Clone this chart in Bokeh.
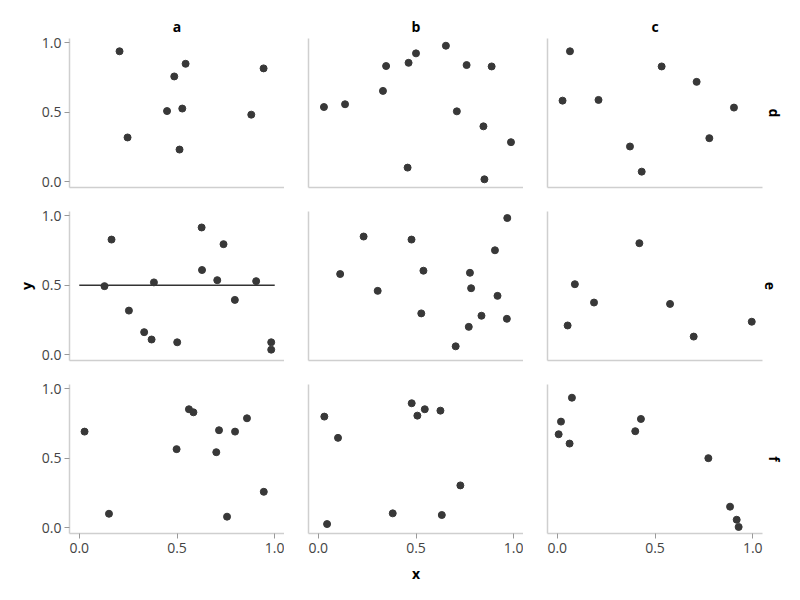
from bokeh.plotting import figure
from bokeh.layouts import gridplot
from bokeh.models import Range1d, FixedTicker, Title, ColumnDataSource
from bokeh.embed import file_html
from bokeh.resources import INLINE

# ---------------- data ----------------
col_labels = ["a", "b", "c"]
row_labels = ["d", "e", "f"]
tick_values = [0.0, 0.5, 1.0]
tick_labels = ["0.0", "0.5", "1.0"]
x_title = "x"
y_title = "y"

a_d_x = [0.206, 0.544, 0.486, 0.943, 0.449, 0.527, 0.880, 0.247, 0.513]
a_d_y = [0.938, 0.848, 0.757, 0.815, 0.508, 0.526, 0.482, 0.318, 0.231]

b_d_x = [0.029, 0.137, 0.331, 0.347, 0.462, 0.500, 0.653, 0.759, 0.887, 0.709, 0.845, 0.986, 0.457, 0.850]
b_d_y = [0.537, 0.557, 0.653, 0.832, 0.855, 0.923, 0.978, 0.839, 0.829, 0.506, 0.398, 0.284, 0.101, 0.017]

c_d_x = [0.065, 0.027, 0.211, 0.534, 0.713, 0.904, 0.778, 0.372, 0.432]
c_d_y = [0.938, 0.583, 0.588, 0.829, 0.718, 0.533, 0.313, 0.253, 0.072]

a_e_x = [0.129, 0.165, 0.254, 0.332, 0.370, 0.382, 0.501, 0.626, 0.628, 0.706, 0.738, 0.796, 0.905, 0.982, 0.982]
a_e_y = [0.493, 0.828, 0.317, 0.162, 0.109, 0.520, 0.089, 0.915, 0.609, 0.536, 0.795, 0.394, 0.529, 0.089, 0.036]

b_e_x = [0.112, 0.232, 0.304, 0.477, 0.538, 0.527, 0.776, 0.782, 0.703, 0.770, 0.835, 0.917, 0.904, 0.967, 0.965]
b_e_y = [0.580, 0.850, 0.459, 0.828, 0.604, 0.297, 0.589, 0.478, 0.060, 0.200, 0.280, 0.423, 0.751, 0.983, 0.258]

c_e_x = [0.053, 0.090, 0.188, 0.420, 0.577, 0.698, 0.995]
c_e_y = [0.210, 0.507, 0.375, 0.802, 0.365, 0.130, 0.237]

a_f_x = [0.027, 0.152, 0.498, 0.561, 0.584, 0.701, 0.715, 0.797, 0.858, 0.756, 0.944]
a_f_y = [0.691, 0.100, 0.565, 0.852, 0.830, 0.543, 0.701, 0.691, 0.787, 0.079, 0.258]

b_f_x = [0.031, 0.101, 0.045, 0.381, 0.478, 0.507, 0.545, 0.625, 0.727, 0.632]
b_f_y = [0.799, 0.646, 0.026, 0.103, 0.895, 0.806, 0.852, 0.842, 0.304, 0.091]

c_f_x = [0.075, 0.019, 0.007, 0.063, 0.428, 0.399, 0.773, 0.884, 0.918, 0.928]
c_f_y = [0.935, 0.763, 0.672, 0.605, 0.782, 0.694, 0.500, 0.151, 0.057, 0.005]

# reference rule in panel (a, e)
rule_x = [0.0, 1.0]
rule_y = [0.5, 0.5]

panels = {
    ("a", "d"): (a_d_x, a_d_y), ("b", "d"): (b_d_x, b_d_y), ("c", "d"): (c_d_x, c_d_y),
    ("a", "e"): (a_e_x, a_e_y), ("b", "e"): (b_e_x, b_e_y), ("c", "e"): (c_e_x, c_e_y),
    ("a", "f"): (a_f_x, a_f_y), ("b", "f"): (b_f_x, b_f_y), ("c", "f"): (c_f_x, c_f_y),
}

# ---------------- styling ----------------
FONT = "Open Sans"
FRAME_W, FRAME_H = 215, 149
AXIS_COLOR = "#cfcfcf"
TICK_COLOR = "#999999"
LABEL_COLOR = "#444444"
POINT_COLOR = "#383838"

rows = []
for i, r in enumerate(row_labels):
    row = []
    for j, c in enumerate(col_labels):
        p = figure(
            frame_width=FRAME_W, frame_height=FRAME_H,
            x_range=Range1d(-0.05, 1.05), y_range=Range1d(-0.042, 1.03),
            output_backend="svg", toolbar_location=None,
            min_border_left=69 if j == 0 else 24,
            min_border_right=30 if j == 2 else 0,
            min_border_top=38 if i == 0 else 14,
            min_border_bottom=52 if i == 2 else 10,
            background_fill_color="white", border_fill_color="white",
        )
        p.outline_line_color = None
        p.grid.visible = False

        for ax in (p.xaxis[0], p.yaxis[0]):
            ax.axis_line_color = AXIS_COLOR
            ax.axis_line_width = 1.5
            ax.major_tick_line_color = TICK_COLOR
            ax.major_tick_in = 0
            ax.major_tick_out = 5
            ax.minor_tick_line_color = None
            ax.major_label_text_font = FONT
            ax.major_label_text_font_size = "14px"
            ax.major_label_text_color = LABEL_COLOR
            ax.major_label_standoff = 3
            ax.axis_label_text_font = FONT
            ax.axis_label_text_font_size = "14px"
            ax.axis_label_text_font_style = "bold"
            ax.axis_label_text_color = "#000000"
            ax.major_label_overrides = {v: t for v, t in zip(tick_values, tick_labels)}

        p.xaxis.ticker = FixedTicker(ticks=tick_values if i == 2 else [])
        p.yaxis.ticker = FixedTicker(ticks=tick_values if j == 0 else [])
        p.xaxis.major_label_standoff = 4

        if i == 2 and j == 1:
            p.xaxis.axis_label = x_title
            p.xaxis.axis_label_standoff = 8
        if i == 1 and j == 0:
            p.yaxis.axis_label = y_title
            p.yaxis.axis_label_standoff = 3

        xs, ys = panels[(c, r)]
        src = ColumnDataSource(dict(x=xs, y=ys))
        if c == "a" and r == "e":
            p.line(rule_x, rule_y, line_color="#333333", line_width=1.5)
        p.scatter("x", "y", source=src, size=7, fill_color=POINT_COLOR,
                  line_color=POINT_COLOR)

        if i == 0:
            p.add_layout(Title(text=c, align="center", text_font=FONT,
                               text_font_size="14px", text_font_style="bold",
                               text_color="#000000", standoff=6), "above")
        if j == 2:
            p.add_layout(Title(text=r, align="center", text_font=FONT,
                               text_font_size="14px", text_font_style="bold",
                               text_color="#000000", standoff=4), "right")
        row.append(p)
    rows.append(row)

grid = gridplot(rows, toolbar_location=None)

open("out.html", "w").write(file_html(grid, INLINE))
